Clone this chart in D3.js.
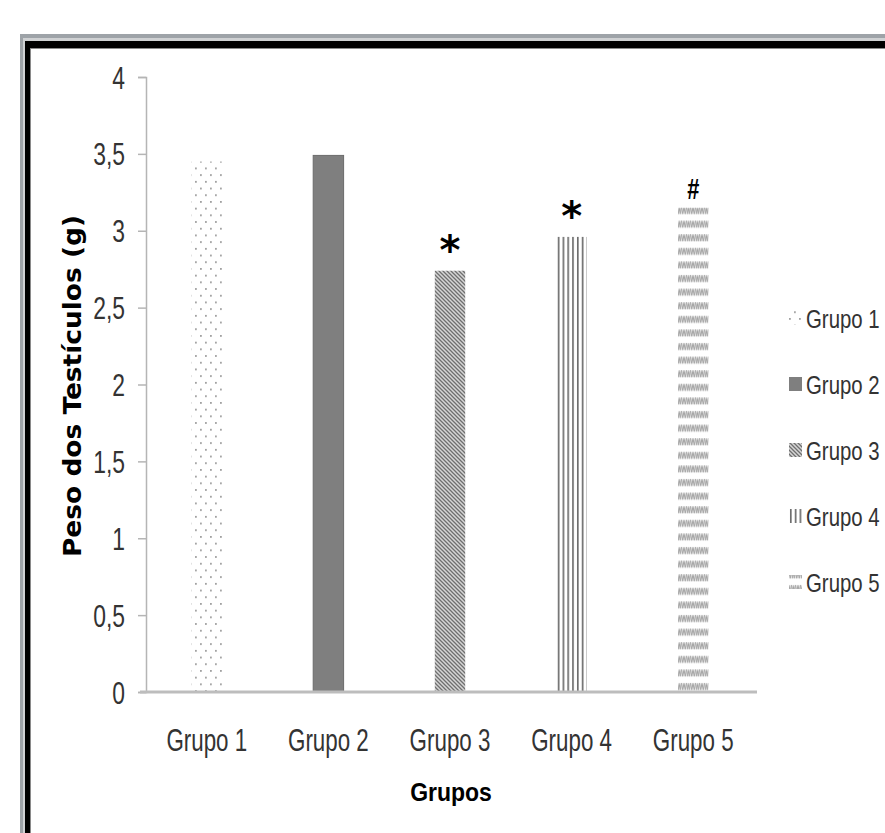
<!DOCTYPE html>
<html>
<head>
<meta charset="utf-8">
<script src="https://cdn.jsdelivr.net/npm/d3@7"></script>
<style>
  body { margin: 0; background: #fff; }
  svg { display: block; }
</style>
</head>
<body>
<script>
// values
const grupos = ['Grupo 1', 'Grupo 2', 'Grupo 3', 'Grupo 4', 'Grupo 5'];
const pesos = [3.45, 3.49, 2.74, 2.96, 3.15];
const marcas = ['', '', '*', '*', '#'];
const yTicks = [0, 0.5, 1, 1.5, 2, 2.5, 3, 3.5, 4];
const yTickLabels = ['0', '0,5', '1', '1,5', '2', '2,5', '3', '3,5', '4'];

const W = 885, H = 833;
const fills = ['url(#p1)', '#7f7f7f', 'url(#p3)', 'url(#p4)', 'url(#p5)'];

const svg = d3.select(document.body).append('svg')
  .attr('width', W)
  .attr('height', H);

// patterns
const defs = svg.append('defs');

const p1 = defs.append('pattern').attr('id', 'p1')
  .attr('patternUnits', 'userSpaceOnUse')
  .attr('width', 10).attr('height', 13.4);
p1.append('rect').attr('x', 0).attr('y', 0).attr('width', 1.8).attr('height', 1.8).attr('fill', '#a0a0a0');
p1.append('rect').attr('x', 5).attr('y', 6.7).attr('width', 1.8).attr('height', 1.8).attr('fill', '#a0a0a0');

const p3 = defs.append('pattern').attr('id', 'p3')
  .attr('patternUnits', 'userSpaceOnUse')
  .attr('width', 4).attr('height', 4);
p3.append('rect').attr('width', 4).attr('height', 4).attr('fill', '#d6d6d6');
p3.append('path')
  .attr('d', 'M0,0 L4,4 M-1,3 L1,5 M3,-1 L5,1')
  .attr('stroke', '#6f6f6f').attr('stroke-width', 1.3);

const p4 = defs.append('pattern').attr('id', 'p4')
  .attr('patternUnits', 'userSpaceOnUse')
  .attr('width', 4.8).attr('height', 10);
p4.append('rect').attr('x', 1).attr('y', 0).attr('width', 1.6).attr('height', 10).attr('fill', '#666');

const p5 = defs.append('pattern').attr('id', 'p5')
  .attr('patternUnits', 'userSpaceOnUse')
  .attr('width', 4.5).attr('height', 13.6);
p5.append('path')
  .attr('d', 'M0,3 L1.125,10 L2.25,3 L3.375,10 L4.5,3')
  .attr('fill', 'none').attr('stroke', '#8c8c8c').attr('stroke-width', 0.8);

// frame
svg.append('rect').attr('x', 20).attr('y', 34).attr('width', 900).attr('height', 900).attr('fill', '#9ea3a8');
svg.append('rect').attr('x', 23).attr('y', 38).attr('width', 900).attr('height', 900).attr('fill', '#cfd1d3');
svg.append('rect').attr('x', 25).attr('y', 41).attr('width', 900).attr('height', 900).attr('fill', '#000');
svg.append('rect').attr('x', 30).attr('y', 48).attr('width', 900).attr('height', 900).attr('fill', '#8a8a8a');
svg.append('rect').attr('x', 31).attr('y', 49).attr('width', 900).attr('height', 900).attr('fill', '#fff');

// scales
const x = d3.scaleBand()
  .domain(grupos)
  .range([146, 754])
  .paddingInner(0.75)
  .paddingOuter(0.375);

const y = d3.scaleLinear()
  .domain([0, 4])
  .range([692, 77]);

// y axis
const yAxis = svg.append('g')
  .attr('transform', 'translate(146,0)')
  .call(d3.axisLeft(y)
    .tickValues(yTicks)
    .tickSize(8)
    .tickFormat((d, i) => yTickLabels[i]));
yAxis.select('.domain').attr('stroke', '#b5b5b5').attr('stroke-width', 1.5);
yAxis.selectAll('.tick line').attr('stroke', '#b5b5b5').attr('stroke-width', 1.5);
yAxis.selectAll('.tick text')
  .attr('x', null)
  .attr('dy', '0.35em')
  .attr('transform', 'translate(-21,0) scale(0.88,1.22)')
  .attr('font-family', '"Liberation Sans", Arial, sans-serif')
  .attr('font-size', 26)
  .attr('fill', '#333')
  .attr('text-anchor', 'end');

// bars
svg.selectAll('.bar')
  .data(pesos)
  .enter().append('rect')
  .attr('class', 'bar')
  .attr('x', (d, i) => x(grupos[i]))
  .attr('y', d => y(d))
  .attr('width', x.bandwidth())
  .attr('height', d => y(0) - y(d))
  .attr('fill', (d, i) => fills[i])
  .attr('stroke', (d, i) => i === 1 ? '#6b6b6b' : 'none')
  .attr('stroke-width', 1);

// x axis line
svg.append('line')
  .attr('x1', 140).attr('x2', 757)
  .attr('y1', y(0)).attr('y2', y(0))
  .attr('stroke', '#bdbdbd')
  .attr('stroke-width', 3);

// significance marks
svg.selectAll('.marca')
  .data(pesos)
  .enter().append('text')
  .attr('class', 'marca')
  .attr('transform', (d, i) => {
    const cx = x(grupos[i]) + x.bandwidth() / 2;
    return marcas[i] === '#'
      ? `translate(${cx},${y(d) - 9}) scale(0.75,1)`
      : `translate(${cx},${y(d) - 6.5})`;
  })
  .attr('text-anchor', 'middle')
  .attr('font-family', (d, i) => marcas[i] === '#' ? '"Liberation Sans", Arial, sans-serif' : '"DejaVu Sans", sans-serif')
  .attr('font-weight', 'bold')
  .attr('font-size', (d, i) => marcas[i] === '#' ? 29 : 40)
  .attr('fill', '#000')
  .text((d, i) => marcas[i]);

// x labels
svg.selectAll('.xlabel')
  .data(grupos)
  .enter().append('text')
  .attr('class', 'xlabel')
  .attr('transform', d => `translate(${x(d) + x.bandwidth() / 2},751) scale(0.86,1.24)`)
  .attr('text-anchor', 'middle')
  .attr('font-family', '"Liberation Sans", Arial, sans-serif')
  .attr('font-size', 26)
  .attr('fill', '#333')
  .text(d => d);

// axis titles
svg.append('text')
  .attr('transform', 'translate(451,801) scale(1,1.13)')
  .attr('text-anchor', 'middle')
  .attr('font-family', '"Liberation Sans", Arial, sans-serif')
  .attr('font-weight', 'bold')
  .attr('font-size', 23)
  .attr('fill', '#000')
  .text('Grupos');

svg.append('text')
  .attr('transform', 'translate(81,386) rotate(-90)')
  .attr('text-anchor', 'middle')
  .attr('font-family', '"DejaVu Sans", sans-serif')
  .attr('font-weight', 'bold')
  .attr('font-size', 24)
  .attr('textLength', 342)
  .attr('lengthAdjust', 'spacingAndGlyphs')
  .attr('fill', '#000')
  .text('Peso dos Testículos (g)');

// legend
const legend = svg.selectAll('.legenda')
  .data(grupos)
  .enter().append('g')
  .attr('class', 'legenda')
  .attr('transform', (d, i) => `translate(789,${318 + i * 66})`);

legend.append('rect')
  .attr('x', 0).attr('y', -7)
  .attr('width', 13).attr('height', 14)
  .attr('fill', (d, i) => fills[i]);

legend.append('text')
  .attr('transform', 'translate(17,9.5) scale(0.85,1.1)')
  .attr('font-family', '"Liberation Sans", Arial, sans-serif')
  .attr('font-size', 24)
  .attr('fill', '#333')
  .text(d => d);
</script>
</body>
</html>
